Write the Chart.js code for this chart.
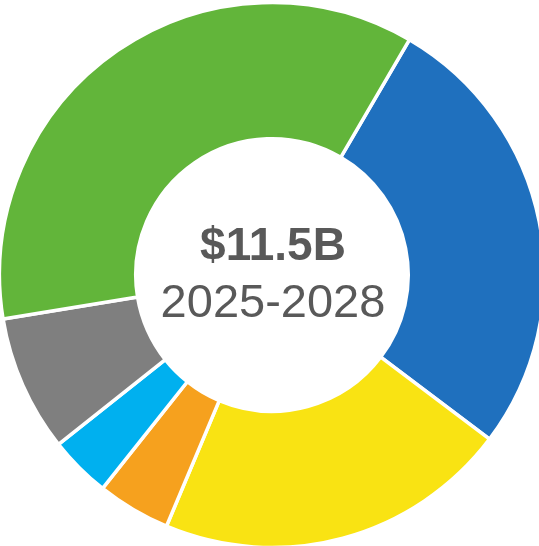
<!DOCTYPE html>
<html>
<head>
<meta charset="utf-8">
<script src="https://cdn.jsdelivr.net/npm/chart.js@4/dist/chart.umd.min.js"></script>
<style>
  html, body { margin: 0; padding: 0; overflow: hidden; background: #fff; }
  #chart1 { display: block; }
</style>
</head>
<body>
<canvas id="chart1" width="544" height="550"></canvas>
<script>
const labels = ['Segment 1', 'Segment 2', 'Segment 3', 'Segment 4', 'Segment 5', 'Segment 6'];
const values = [3.09, 2.42, 0.50, 0.42, 0.93, 4.14];
const colors = ['#1F70BE', '#F9E313', '#F6A11E', '#00B0EF', '#7F7F7F', '#62B53A'];
const centerTitle = '$11.5B';
const centerSub = '2025-2028';

const centerText = {
    id: 'centerText',
    afterDraw(chart) {
        const ctx = chart.ctx;
        const arc = chart.getDatasetMeta(0).data[0];
        const x = arc.x + 1, y = arc.y;
        ctx.save();
        ctx.fillStyle = '#595959';
        ctx.textAlign = 'center';
        ctx.textBaseline = 'alphabetic';
        ctx.font = 'bold 46px "Liberation Sans", Arial, sans-serif';
        ctx.fillText(centerTitle, x, y - 15);
        ctx.font = '47px "Liberation Sans", Arial, sans-serif';
        ctx.fillText(centerSub, x, y + 42);
        ctx.restore();
    }
};

const ctx1 = document.getElementById('chart1').getContext('2d');
const chart1 = new Chart(ctx1, {
    type: 'doughnut',
    data: {
        labels: labels,
        datasets: [
            {
            data: values,
            backgroundColor: colors,
            borderColor: '#ffffff',
            borderWidth: 3.5
            }
        ]
    },
    options: {
        responsive: false,
        animation: false,
        rotation: 30.3,
        radius: 272.5,
        cutout: '50%',
        layout: { padding: 0 },
        plugins: {
            legend: { display: false },
            tooltip: { enabled: false }
        }
    },
    plugins: [centerText]
});
</script>
</body>
</html>
